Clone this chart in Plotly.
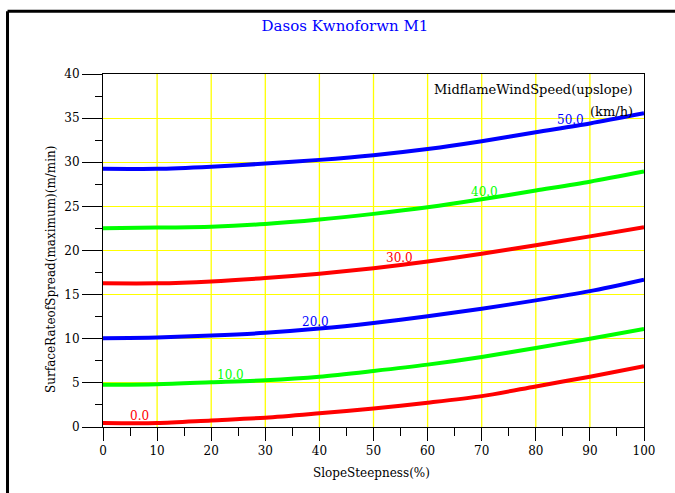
import numpy as np
import plotly.graph_objects as go

# ---- data ----
slope = [0, 10, 20, 30, 40, 50, 60, 70, 80, 90, 100]
ros_0 = [0.45, 0.45, 0.75, 1.05, 1.55, 2.1, 2.75, 3.5, 4.6, 5.7, 6.9]
ros_10 = [4.78, 4.85, 5.07, 5.3, 5.7, 6.35, 7.07, 7.94, 8.96, 10.0, 11.1]
ros_20 = [10.07, 10.15, 10.37, 10.67, 11.15, 11.79, 12.55, 13.4, 14.35, 15.4, 16.7]
ros_30 = [16.28, 16.28, 16.5, 16.88, 17.37, 18.0, 18.75, 19.63, 20.6, 21.6, 22.65]
ros_40 = [22.53, 22.6, 22.7, 23.0, 23.5, 24.15, 24.9, 25.8, 26.8, 27.8, 28.95]
ros_50 = [29.25, 29.25, 29.5, 29.85, 30.27, 30.8, 31.5, 32.38, 33.4, 34.4, 35.55]

wind_labels = ["0.0", "10.0", "20.0", "30.0", "40.0", "50.0"]
label_x = [6.7, 23.5, 39.2, 54.8, 70.6, 86.4]
series = [ros_0, ros_10, ros_20, ros_30, ros_40, ros_50]
colors = ["#ff0000", "#00ff00", "#0000ff", "#ff0000", "#00ff00", "#0000ff"]

grid_x = [10, 20, 30, 40, 50, 60, 70, 80, 90]

title_text = "Dasos Kwnoforwn M1"
x_title = "SlopeSteepness(%)"
y_title = "SurfaceRateofSpread(maximum)(m/min)"
legend_title = "MidflameWindSpeed(upslope)"
legend_unit = "(km/h)"

FONT = "DejaVu Serif"

fig = go.Figure()
for ys, c, name in zip(series, colors, wind_labels):
    fig.add_trace(go.Scatter(x=slope, y=ys, mode="lines", name=name,
                             line=dict(color=c, width=4, shape="spline", smoothing=0.8),
                             showlegend=False, hoverinfo="x+y"))

annotations = []
for ys, c, name, lx in zip(series, colors, wind_labels, label_x):
    ly = float(np.interp(lx, slope, ys))
    annotations.append(dict(x=lx, y=ly, xref="x", yref="y", text=name, showarrow=False,
                            xanchor="center", yanchor="middle", yshift=7,
                            font=dict(family=FONT, size=12, color=c)))

annotations += [
    dict(x=0.983, y=0.9575, xref="paper", yref="paper", text=legend_title, showarrow=False,
         xanchor="right", yanchor="middle", font=dict(family=FONT, size=13, color="black")),
    dict(x=0.983, y=0.895, xref="paper", yref="paper", text=legend_unit, showarrow=False,
         xanchor="right", yanchor="middle", font=dict(family=FONT, size=13, color="black")),
    dict(x=0.497, y=-0.130, xref="paper", yref="paper", text=x_title, showarrow=False,
         xanchor="center", yanchor="middle", font=dict(family=FONT, size=12, color="black")),
    dict(x=-0.096, y=0.445, xref="paper", yref="paper", text=y_title, showarrow=False,
         textangle=-90, xanchor="center", yanchor="middle",
         font=dict(family=FONT, size=12, color="black")),
]

# vertical yellow grid lines at the interior x ticks
shapes = [dict(type="line", xref="x", yref="paper", x0=gx, x1=gx, y0=0, y1=1, layer="below",
               line=dict(color="#ffff00", width=1.3)) for gx in grid_x]
shapes += [
    dict(type="line", xref="paper", yref="paper", x0=-0.1765, x1=1.2, y0=1.178, y1=1.178,
         line=dict(color="black", width=3)),
    dict(type="line", xref="paper", yref="paper", x0=-0.1765, x1=-0.1765, y0=1.178, y1=-0.3,
         line=dict(color="black", width=3)),
]

fig.update_layout(
    template="none",
    width=675, height=493,
    margin=dict(l=103, r=31, t=74, b=66),
    paper_bgcolor="white", plot_bgcolor="white",
    title=dict(text=title_text, x=0.511, xref="container", y=0.948, yref="container",
               xanchor="center", yanchor="middle",
               font=dict(family=FONT, size=15, color="#0000ff")),
    annotations=annotations,
    shapes=shapes,
    xaxis=dict(range=[0, 100], dtick=10, tick0=0, ticks="outside", ticklen=13, tickwidth=1,
               tickcolor="black", showline=True, linecolor="black", linewidth=1, mirror=True,
               showgrid=False, zeroline=False,
               tickfont=dict(family=FONT, size=12, color="black"),
               minor=dict(dtick=5, ticks="outside", ticklen=8, tickcolor="black", showgrid=False)),
    yaxis=dict(range=[0, 40], dtick=5, tick0=0, ticks="outside", ticklen=20, tickwidth=1,
               tickcolor="black", showline=True, linecolor="black", linewidth=1, mirror=True,
               showgrid=True, gridcolor="#ffff00", gridwidth=1, zeroline=False,
               tickfont=dict(family=FONT, size=12, color="black"),
               minor=dict(dtick=2.5, ticks="outside", ticklen=7, tickcolor="black", showgrid=False)),
)

fig.write_html("out.html", config={"displayModeBar": False},
               post_script="document.body.style.margin='0';")
